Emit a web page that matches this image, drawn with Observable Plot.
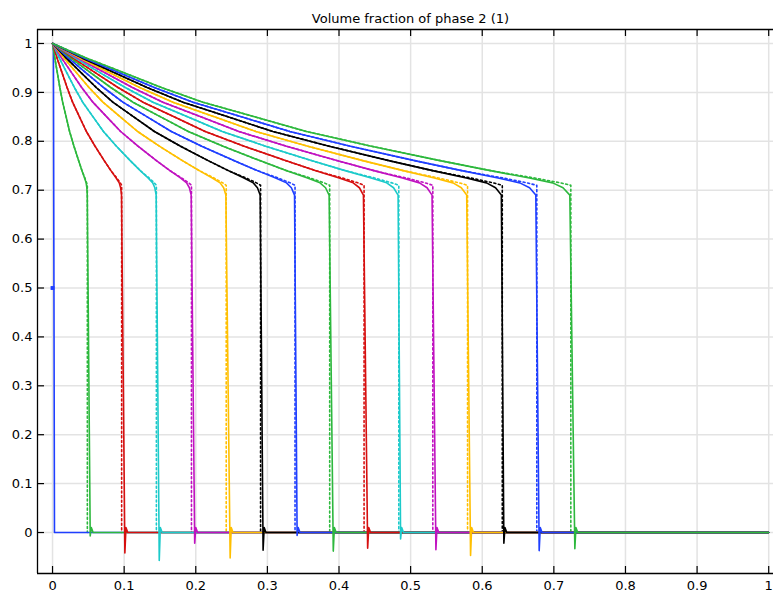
<!DOCTYPE html>
<html><head><meta charset="utf-8">
<script src="https://cdn.jsdelivr.net/npm/d3@7"></script>
<script src="https://cdn.jsdelivr.net/npm/@observablehq/plot@0.6"></script>
<style>html,body{margin:0;padding:0;background:#fff;} svg{display:block}</style>
</head><body><div id="chart"></div>
<script>
const chartTitle = "Volume fraction of phase 2 (1)";
const xTicks = [0, 0.1, 0.2, 0.3, 0.4, 0.5, 0.6, 0.7, 0.8, 0.9, 1];
const xTickLabels = ["0", "0.1", "0.2", "0.3", "0.4", "0.5", "0.6", "0.7", "0.8", "0.9", "1"];
const yTicks = [0, 0.1, 0.2, 0.3, 0.4, 0.5, 0.6, 0.7, 0.8, 0.9, 1];
const yTickLabels = ["0", "0.1", "0.2", "0.3", "0.4", "0.5", "0.6", "0.7", "0.8", "0.9", "1"];

// colour of each time step 0..15 (blue, green, red, cyan, magenta, yellow, black cycle)
const seriesColors = ["#1f3fff", "#2db83d", "#d60f0f", "#1ccaca", "#c012c0", "#ffbf00", "#000000",
  "#1f3fff", "#2db83d", "#d60f0f", "#1ccaca", "#c012c0", "#ffbf00", "#000000",
  "#1f3fff", "#2db83d"];

// numerical solution (solid): x where each curve passes these saturation levels
const numericLevels = [1, 0.97, 0.94, 0.91, 0.88, 0.85, 0.82, 0.79, 0.76, 0.74, 0.725, 0.715, 0.705, 0.69];
const numericX = [
  [0, 0.0032, 0.0067, 0.0102, 0.0141, 0.0190, 0.0238, 0.0299, 0.0365, 0.0411, 0.0447, 0.0469, 0.0479, 0.0485],
  [0, 0.0064, 0.0133, 0.0203, 0.0280, 0.0376, 0.0473, 0.0593, 0.0724, 0.0815, 0.0888, 0.0931, 0.0951, 0.0963],
  [0, 0.0096, 0.0200, 0.0305, 0.0421, 0.0566, 0.0711, 0.0892, 0.1088, 0.1225, 0.1334, 0.1399, 0.1428, 0.1447],
  [0, 0.0128, 0.0268, 0.0407, 0.0563, 0.0757, 0.0951, 0.1193, 0.1455, 0.1639, 0.1785, 0.1872, 0.1911, 0.1936],
  [0, 0.0160, 0.0335, 0.0509, 0.0703, 0.0946, 0.1188, 0.1491, 0.1819, 0.2049, 0.2231, 0.2340, 0.2389, 0.2420],
  [0, 0.0192, 0.0401, 0.0610, 0.0842, 0.1133, 0.1423, 0.1787, 0.2179, 0.2455, 0.2673, 0.2803, 0.2861, 0.2899],
  [0, 0.0223, 0.0467, 0.0711, 0.0982, 0.1321, 0.1659, 0.2082, 0.2540, 0.2861, 0.3115, 0.3267, 0.3335, 0.3379],
  [0, 0.0255, 0.0534, 0.0813, 0.1122, 0.1509, 0.1896, 0.2380, 0.2903, 0.3270, 0.3560, 0.3735, 0.3812, 0.3862],
  [0, 0.0287, 0.0600, 0.0914, 0.1262, 0.1697, 0.2132, 0.2675, 0.3263, 0.3676, 0.4002, 0.4198, 0.4285, 0.4341],
  [0, 0.0319, 0.0667, 0.1015, 0.1402, 0.1886, 0.2369, 0.2974, 0.3626, 0.4086, 0.4448, 0.4666, 0.4762, 0.4825],
  [0, 0.0350, 0.0733, 0.1115, 0.1540, 0.2071, 0.2602, 0.3266, 0.3983, 0.4487, 0.4885, 0.5124, 0.5230, 0.5299],
  [0, 0.0382, 0.0800, 0.1217, 0.1681, 0.2260, 0.2840, 0.3564, 0.4346, 0.4897, 0.5331, 0.5592, 0.5708, 0.5783],
  [0, 0.0414, 0.0867, 0.1319, 0.1821, 0.2449, 0.3077, 0.3862, 0.4710, 0.5307, 0.5778, 0.6060, 0.6186, 0.6267],
  [0, 0.0446, 0.0933, 0.1420, 0.1961, 0.2637, 0.3313, 0.4159, 0.5072, 0.5714, 0.6221, 0.6525, 0.6661, 0.6748],
  [0, 0.0478, 0.0999, 0.1520, 0.2099, 0.2822, 0.3546, 0.4451, 0.5428, 0.6115, 0.6658, 0.6984, 0.7128, 0.7223]
];
// where the numerical front reaches the bottom, and the undershoot depth there
const numericFrontBottomX = [0.0526, 0.101, 0.149, 0.1985, 0.248, 0.294, 0.3415, 0.392, 0.440, 0.486, 0.5353, 0.5837, 0.6302, 0.6795, 0.7293];
const numericSpikeMin = [-0.007, -0.042, -0.057, -0.022, -0.052, -0.036, -0.006, -0.038, -0.032, -0.013, -0.035, -0.047, -0.022, -0.037, -0.033];
const spikeOvershoot = 0.01;

// analytical solution (dotted): same path above 0.74, then these tail points, then the front
const exactTailLevels = [0.725, 0.715, 0.71];
const exactTailX = [
  [0.0452, 0.0476, 0.0486], [0.0897, 0.0946, 0.0965], [0.1349, 0.1421, 0.1450],
  [0.1804, 0.1901, 0.1940], [0.2255, 0.2377, 0.2425], [0.2702, 0.2847, 0.2905],
  [0.3149, 0.3318, 0.3386], [0.3599, 0.3793, 0.3870], [0.4046, 0.4263, 0.4350],
  [0.4497, 0.4738, 0.4835], [0.4938, 0.5204, 0.5310], [0.5389, 0.5679, 0.5795],
  [0.5840, 0.6154, 0.6280], [0.6289, 0.6627, 0.6762], [0.6730, 0.7092, 0.7237]
];

// time step 0
const initialNumeric = [[0.0012, 1], [0.0027, 0], [1, 0]];
const initialExactPoint = [[0, 0.5]];

const xDomain = [-0.021, 1.0067];
const yDomain = [-0.0838, 1.0286];

// build tables
const solidCurves = numericX.map((xs, i) => {
  const pts = numericLevels.map((s, j) => ({x: xs[j], y: s}));
  const xb = numericFrontBottomX[i];
  pts.push({x: xb, y: numericSpikeMin[i]});
  pts.push({x: xb + 0.0015, y: spikeOvershoot});
  pts.push({x: xb + 0.004, y: 0});
  pts.push({x: 1, y: 0});
  return pts;
});
const dottedCurves = numericX.map((xs, i) => {
  const pts = [];
  for (let j = 0; j < numericLevels.length; j++) {
    if (numericLevels[j] >= 0.74) pts.push({x: xs[j], y: numericLevels[j]});
  }
  exactTailLevels.forEach((s, j) => pts.push({x: exactTailX[i][j], y: s}));
  pts.push({x: exactTailX[i][2], y: 0});
  return pts;
});

const marks = [
  Plot.gridX(xTicks, {stroke: "#e3e3e3", strokeOpacity: 1, strokeWidth: 1.5}),
  Plot.gridY(yTicks, {stroke: "#e3e3e3", strokeOpacity: 1, strokeWidth: 1.5})
];
dottedCurves.forEach((pts, i) => marks.push(
  Plot.line(pts, {x: "x", y: "y", stroke: seriesColors[i + 1], strokeWidth: 1.6, strokeDasharray: "2,2.6", curve: "linear"})
));
marks.push(Plot.line(initialNumeric, {x: d => d[0], y: d => d[1], stroke: seriesColors[0], strokeWidth: 1.6}));
marks.push(Plot.dot(initialExactPoint, {x: d => d[0], y: d => d[1], symbol: "square", r: 2.2, fill: seriesColors[0]}));
solidCurves.forEach((pts, i) => marks.push(
  Plot.line(pts, {x: "x", y: "y", stroke: seriesColors[i + 1], strokeWidth: 1.6, curve: "linear"})
));
marks.push(
  Plot.ruleX([xDomain[0]], {stroke: "#000", strokeWidth: 1.3}),
  Plot.ruleY([yDomain[0]], {stroke: "#000", strokeWidth: 1.3}),
  Plot.ruleY([yDomain[1]], {stroke: "#000", strokeWidth: 1.3}),
  Plot.ruleX(xTicks, {x: d => d, insetTop: 537, stroke: "#000", strokeWidth: 1.2}),
  Plot.ruleX(xTicks, {x: d => d, insetBottom: 537, stroke: "#000", strokeWidth: 1.2}),
  Plot.ruleY(yTicks, {y: d => d, insetRight: 729, stroke: "#000", strokeWidth: 1.2}),
  Plot.axisX(xTicks, {anchor: "bottom", tickSize: 0, tickPadding: 7, fontSize: 13, label: null,
    tickFormat: d => xTickLabels[xTicks.indexOf(d)]}),
  Plot.axisY(yTicks, {anchor: "left", tickSize: 0, tickPadding: 5, fontSize: 13, label: null,
    tickFormat: d => yTickLabels[yTicks.indexOf(d)]}),
  Plot.text([chartTitle], {frameAnchor: "top", dy: -16, dx: 5, fontSize: 13, fill: "#000"})
);

const chart = Plot.plot({
  width: 774, height: 599,
  marginLeft: 37, marginRight: 1, marginTop: 29, marginBottom: 26,
  x: {domain: xDomain, label: null},
  y: {domain: yDomain, label: null},
  style: {fontFamily: "'DejaVu Sans', sans-serif", fontSize: "13px", background: "#fff", color: "#000"},
  marks
});
document.getElementById("chart").appendChild(chart);
</script>
</body></html>
